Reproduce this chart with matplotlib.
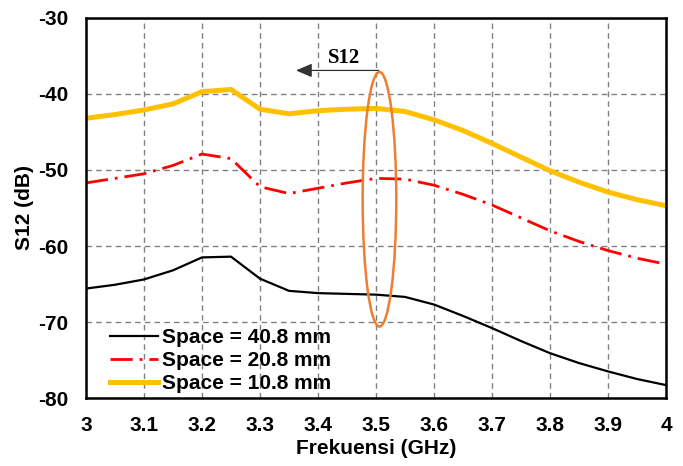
import matplotlib
matplotlib.use("Agg")
import matplotlib.pyplot as plt
from matplotlib.patches import Ellipse

# --- Data ---
freq = [3.0, 3.05, 3.1, 3.15, 3.2, 3.25, 3.3, 3.35, 3.4, 3.45, 3.5, 3.55,
        3.6, 3.65, 3.7, 3.75, 3.8, 3.85, 3.9, 3.95, 4.0]

s12_40 = [-65.6, -65.1, -64.4, -63.2, -61.5, -61.4, -64.3, -65.9, -66.2, -66.3, -66.4, -66.7,
          -67.7, -69.2, -70.8, -72.5, -74.1, -75.4, -76.5, -77.5, -78.3]
s12_20 = [-51.7, -51.1, -50.5, -49.4, -47.9, -48.5, -52.2, -53.1, -52.4, -51.7, -51.1, -51.2,
          -52.0, -53.2, -54.6, -56.3, -58.0, -59.4, -60.6, -61.6, -62.4]
s12_10 = [-43.2, -42.7, -42.1, -41.3, -39.7, -39.4, -42.0, -42.6, -42.2, -42.0, -41.9, -42.3,
          -43.4, -44.8, -46.5, -48.3, -50.1, -51.6, -52.9, -53.9, -54.7]

labels = ["Space = 40.8 mm", "Space = 20.8 mm", "Space = 10.8 mm"]
xticks = [3.0, 3.1, 3.2, 3.3, 3.4, 3.5, 3.6, 3.7, 3.8, 3.9, 4.0]
xtick_labels = ["3", "3.1", "3.2", "3.3", "3.4", "3.5", "3.6", "3.7", "3.8", "3.9", "4"]
yticks = [-80, -70, -60, -50, -40, -30]


def main():
    plt.rcParams["font.family"] = ["Liberation Sans", "DejaVu Sans"]
    plt.rcParams["font.weight"] = "bold"
    plt.rcParams["axes.unicode_minus"] = False

    fig = plt.figure(figsize=(6.83, 4.66), dpi=100)
    ax = fig.add_axes([0.1259, 0.1459, 0.9751 - 0.1259, 0.9614 - 0.1459])

    ax.plot(freq, s12_40, color="black", lw=1.6, label=labels[0])
    ax.plot(freq, s12_20, color="#FF0000", lw=2.0, dashes=(8, 2.5, 1, 2.5), label=labels[1])
    ax.plot(freq, s12_10, color="#FFC000", lw=3.6, label=labels[2])

    # orange ellipse marking the S12 curves + arrow annotation
    ax.add_patch(Ellipse((3.506, -53.85), 0.058, 33.5, fill=False,
                         edgecolor="#ED7D31", lw=1.8, zorder=4))
    ax.annotate("", xy=(3.362, -36.9), xytext=(3.505, -36.9),
                arrowprops=dict(arrowstyle="-|>,head_length=0.7,head_width=0.3",
                                color="#333333", lw=0.9, mutation_scale=14,
                                shrinkA=0, shrinkB=0))
    ax.text(3.445, -35.2, "S12", family=["Liberation Serif"], fontweight="bold",
            fontsize=15, ha="center", va="center")

    ax.set_xlim(3.0, 4.0)
    ax.set_ylim(-80, -30)
    ax.set_xticks(xticks)
    ax.set_xticklabels(xtick_labels)
    ax.set_yticks(yticks)
    ax.tick_params(axis="both", labelsize=15, length=0)
    ax.tick_params(axis="x", pad=13)
    ax.tick_params(axis="y", pad=13)
    ax.grid(True, color="#808080", ls=(0, (4, 3)), lw=1.0)
    for sp in ax.spines.values():
        sp.set_linewidth(1.8)
        sp.set_color("black")

    ax.set_xlabel("Frekuensi (GHz)", fontsize=15, fontweight="bold", labelpad=3)
    ax.set_ylabel("S12 (dB)", fontsize=15, fontweight="bold", labelpad=3)

    ax.legend(loc="lower left", bbox_to_anchor=(0.02, -0.021), frameon=False,
              fontsize=15, handlelength=2.3, handletextpad=0.2, labelspacing=0.2,
              borderaxespad=0.2)

    fig.savefig("out.png", dpi=100)
    plt.close(fig)


if __name__ == "__main__":
    main()
